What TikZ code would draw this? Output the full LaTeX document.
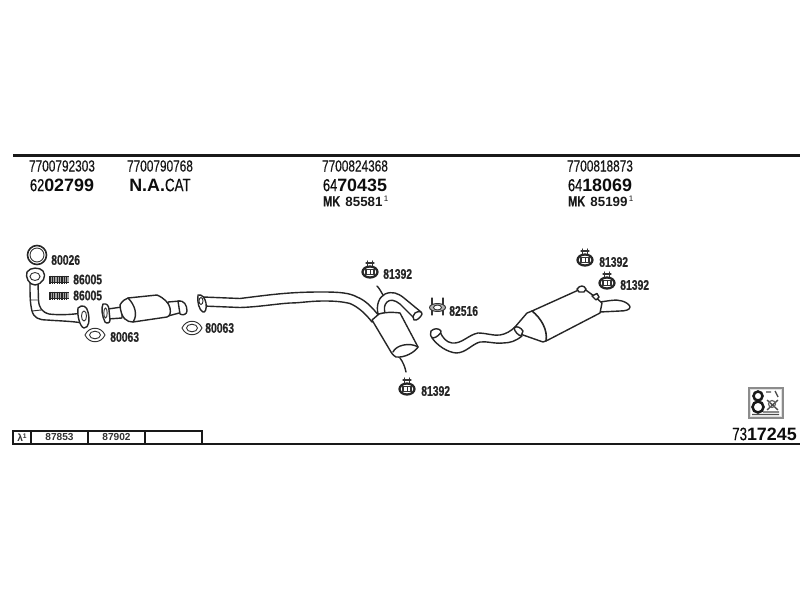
\documentclass[tikz,border=0pt]{standalone}
\usepackage{fontspec}
\setmainfont{Liberation Sans}
\newfontfamily\nr[FakeStretch=.74,FakeBold=0.35]{Liberation Sans}
\tikzset{
  x=0.75pt,y=-0.75pt,
  ink/.style={draw=black!85,line width=1.05pt,line join=round,line cap=round},
  thin ink/.style={draw=black!80,line width=.7pt,line cap=round},
  part/.style={ink,fill=white},
  rule/.style={draw=black!90,line width=1.6pt},
  cell/.style={draw=black!90,line width=1pt},
  partno/.style={font=\nr\fontsize{12}{12}\selectfont,inner sep=0pt,text=black!90},
  refno/.style={font=\fontsize{13.4}{13}\selectfont\bfseries,inner sep=0pt,text=black!95},
  mk/.style={font=\fontsize{10}{10}\selectfont\bfseries,inner sep=0pt,anchor=west,text=black!90},
  lab/.style={font=\nr\fontsize{10.5}{10.5}\selectfont\bfseries,inner sep=0pt,anchor=west,text=black!85},
  tabtxt/.style={font=\fontsize{7.6}{8}\selectfont\bfseries,inner sep=0pt,text=black!80},
  hanger/.pic={
    \draw[thin ink,line width=1pt] (-2.5,-11)--(-2.5,-5) (2.5,-11)--(2.5,-5);
    \draw[thin ink,line width=.8pt] (-4,-9)--(4,-9);
    \draw[draw=black!85,line width=1.7pt,fill=white] (0,0) ellipse (7.5 and 5.5);
    \draw[thin ink,line width=1pt,fill=white] (-4,-2.5) rectangle (4,2.5);
    \draw[thin ink] (0,-2.5)--(0,2.5);
  },
  spring/.pic={
    \fill[black!35] (0,-3) rectangle (19,3);
    \draw[black!85,line width=1.1pt] (0,-2.8)--(19,-2.8) (0,2.8)--(19,2.8);
    \foreach \i in {0,2.4,...,19}{\draw[black!85,line width=.8pt] (\i,-4)--(\i,4);}
  },
  gasket/.pic={
    \draw[thin ink,fill=white] (-10,0) .. controls (-6,-9) and (6,-9) .. (10,0) .. controls (6,9) and (-6,9) .. (-10,0) -- cycle;
    \draw[thin ink] (0,0) ellipse (5.5 and 3.8);
  }
}
\begin{document}
\begin{tikzpicture}
\useasboundingbox (0,0) rectangle (800,600);
\fill[white] (0,0) rectangle (800,600);
% frame rules
\draw[rule] (13,155.5) -- (800,155.5);
\draw[rule] (13,444) -- (800,444);
\draw[cell] (13,431) rectangle (202,444);
\draw[cell] (31,431)--(31,444) (88,431)--(88,444) (145,431)--(145,444);
\node[tabtxt] (lam) at (22,437.5) {λ\raisebox{2pt}{\fontsize{5}{5}\selectfont 1}};
\node[tabtxt] (t1) at (59.5,437.5) {87853};
\node[tabtxt] (t2) at (116.5,437.5) {87902};
% headers
\node[partno] (a1) at (62,166) {7700792303};
\node[partno] (a2) at (160,166) {7700790768};
\node[partno] (a3) at (355,166) {7700824368};
\node[partno] (a4) at (600,166) {7700818873};
\node[refno] (b1) at (62,185) {{\nr\mdseries\fontsize{13}{13}\selectfont 62}02799};
\node[refno] (b2) at (160,185) {N.A.{\nr\mdseries\fontsize{13.5}{13}\selectfont CAT}};
\node[refno] (b3) at (355,185) {{\nr\mdseries\fontsize{13}{13}\selectfont 64}70435};
\node[refno] (b4) at (600,185) {{\nr\mdseries\fontsize{13}{13}\selectfont 64}18069};
\node[mk] (c3) at (323,201) {{\nr\fontsize{11}{11}\selectfont MK}\hspace{4pt}85581\raisebox{4pt}{\mdseries\fontsize{6}{6}\selectfont\,1}};
\node[mk] (c4) at (568,201) {{\nr\fontsize{11}{11}\selectfont MK}\hspace{4pt}85199\raisebox{4pt}{\mdseries\fontsize{6}{6}\selectfont\,1}};

% ring and springs
\draw[ink,line width=1.2pt] (37,255) circle (9.5);
\draw[thin ink] (37,255) circle (7);
\node[lab] (l1) at (51,260) {80026};
\pic at (50,279.5) {spring};
\pic at (50,295.5) {spring};
\node[lab] (l2) at (73,279.5) {86005};
\node[lab] (l3) at (73,295.5) {86005};
% front pipe
\draw[part] (30,283) .. controls (30,295) and (30,303) .. (32,311) .. controls (34,318) and (39,320) .. (47,320) .. controls (60,321) and (70,321) .. (83,323) -- (82,313) .. controls (70,315) and (57,315) .. (49,314) .. controls (42,312) and (39,308) .. (38.5,300) -- (38,283) -- cycle;
\draw[thin ink] (30,300) -- (38.5,300) (32,311) -- (41,310);
\draw[part] (27,272) .. controls (30,267) and (40,267) .. (43,271) .. controls (47,276) and (43,284) .. (35,285) .. controls (29,285) and (25,277) .. (27,272) -- cycle;
\draw[thin ink] (35,276.5) ellipse (5 and 4);
\draw[part] (78,308) .. controls (82,304) and (87,306) .. (88,312) .. controls (90,320) and (89,328) .. (84,328) .. controls (80,327) and (77,316) .. (78,308) -- cycle;
\draw[thin ink] (84,316) ellipse (2.5 and 5);
\pic at (95,335) {gasket};
\node[lab] (l4) at (110,337) {80063};
% catalyst
\draw[part] (108,309) -- (122,307) -- (122,318) -- (108,319) -- cycle;
\draw[part] (168,302) -- (180,301) -- (183,312) -- (168,316) -- cycle;
\draw[part] (103,304) .. controls (107,303) and (109,306) .. (109,310) -- (110,320) .. controls (110,323) and (107,324) .. (105,322) .. controls (102,316) and (101,308) .. (103,304) -- cycle;
\draw[thin ink] (105.5,313) ellipse (1.7 and 5);
\draw[part] (178,301) .. controls (184,300) and (187,305) .. (187,311) .. controls (187,314) and (183,316) .. (180,314) -- cycle;
\draw[part] (120,305) .. controls (122,301) and (125,299) .. (128,298) -- (157,295) .. controls (164,298) and (169,303) .. (170,308) .. controls (171,313) and (170,316) .. (167,317) -- (133,322) .. controls (127,322) and (121,319) .. (120,305) -- cycle;
\draw[ink] (128,298) .. controls (135,305) and (138,315) .. (133,322);
\pic at (192,328) {gasket};
\node[lab] (l5) at (205,328) {80063};
% middle pipe
\draw[part] (203,297) -- (240,298.5) .. controls (260,296) and (275,294) .. (290,293) .. controls (305,292) and (315,292) .. (323,292) .. controls (340,292) and (350,293) .. (357,297) .. controls (365,300) and (372,307) .. (379,316) -- (372,322) .. controls (365,313) and (358,307) .. (350,303.5) .. controls (340,301) and (330,301) .. (323,301) .. controls (310,301) and (300,303) .. (290,303) .. controls (275,304) and (258,307) .. (240,307.5) -- (203,306) -- cycle;
\draw[part] (198,295) .. controls (202,294) and (205,298) .. (206,303) .. controls (207,309) and (205,313) .. (203,312) .. controls (199,310) and (197,302) .. (198,295) -- cycle;
\draw[thin ink] (201,301) ellipse (2 and 3.5);
% secondary muffler bent pipe
\draw[ink] (377,286) .. controls (380,289) and (381,292) .. (383,295);
\draw[part] (378,314) .. controls (376,305) and (379,297) .. (385,294) .. controls (392,291) and (398,293) .. (404,298) -- (421,312) -- (415,319) -- (400,304) .. controls (395,300) and (390,299) .. (387,302) .. controls (384,305) and (384,309) .. (385,313) -- cycle;
\draw[part] (415,313) .. controls (418,311) and (422,311) .. (422,314) .. controls (421,317) and (417,321) .. (414,320) .. controls (412,318) and (413,315) .. (415,313) -- cycle;
% muffler body
\draw[ink] (400,358) .. controls (403,362) and (405,367) .. (406,372);
\draw[part] (372,320) -- (379,314) .. controls (386,312) and (392,312) .. (400,313) -- (418,347) .. controls (415,352) and (405,358) .. (396,357) .. controls (393,355) and (392,354) .. (391,352) -- cycle;
\draw[ink] (393,352) .. controls (396,345) and (410,342) .. (418,347);
\pic at (370,272) {hanger};
\node[lab] (l6) at (383,274) {81392};
\pic at (407,389) {hanger};
\node[lab] (l7) at (421,391) {81392};
% clamp 82516
\draw[thin ink,line width=.9pt] (432,298)--(432,315) (443,298)--(443,315);
\draw[thin ink,fill=black!30] (437.5,307.5) ellipse (8 and 4);
\draw[thin ink,fill=white] (437.5,307.5) ellipse (4 and 2.5);
\node[lab] (l8) at (449,311) {82516};
% rear pipe
\draw[part] (432,333) -- (440,332) .. controls (443,338) and (446,342) .. (452,343) .. controls (462,344) and (468,335) .. (478,333) .. controls (486,333) and (494,336) .. (500,335) .. controls (506,334) and (511,331) .. (515,327) -- (522,336) .. controls (516,341) and (510,343) .. (503,343) .. controls (495,344) and (487,341) .. (480,342) .. controls (472,344) and (466,353) .. (456,353) .. controls (447,352) and (438,346) .. (432,338) -- cycle;
\draw[part] (431,331) .. controls (434,328) and (439,328) .. (441,331) .. controls (442,333) and (436,338) .. (433,338) .. controls (430,337) and (430,333) .. (431,331) -- cycle;
% tail pipe
\draw[part] (600,302) .. controls (608,301) and (616,299) .. (622,301) .. controls (626,302) and (630,305) .. (630,307) .. controls (630,310) and (625,311) .. (620,311) -- (600,312) -- cycle;
% rear muffler
\draw[part] (583,288) -- (594,296) -- (602,303) -- (600,313) -- (548,340) -- (543,342) -- (523,335) -- (515,327) -- (527,313) -- (532,311) -- cycle;
\draw[ink,line width=1.2pt] (532,311) .. controls (541,318) and (548,330) .. (546,341);
\draw[part] (577,289) .. controls (580,285) and (584,285) .. (586,289) -- (584,292) -- (579,292) -- cycle;
\draw[part] (592,296) -- (597,293.5) -- (599,297) -- (596,300) -- cycle;
\draw[part] (514,328) .. controls (517,325) and (521,328) .. (523,331) -- (521,336) .. controls (518,335) and (515,332) .. (514,328) -- cycle;
\pic at (585,260) {hanger};
\node[lab] (l9) at (599,262) {81392};
\pic at (607,283) {hanger};
\node[lab] (l10) at (620,285) {81392};
% catalogue symbol
\draw[draw=black!45,fill=black!12,line width=.8pt] (749,388) rectangle (783,418);
\fill[white] (751,390) rectangle (781,416);
\draw[black!90,line width=1.9pt] (758,396) circle (4.5) (758,407) circle (5.5);
\draw[black!70,line width=1pt] (766,392)--(771,392) (775,391)--(778,397) (767,400)--(778,410) (778,400)--(767,410) (763,412)--(779,412) (752,414.5)--(779,414.5);
\draw[black!60,line width=.9pt] (772,404) circle (3.5);
\node[refno,anchor=east] (tot) at (797,434) {{\nr\mdseries\fontsize{13.5}{13}\selectfont 73}17245};
\end{tikzpicture}
\end{document}
